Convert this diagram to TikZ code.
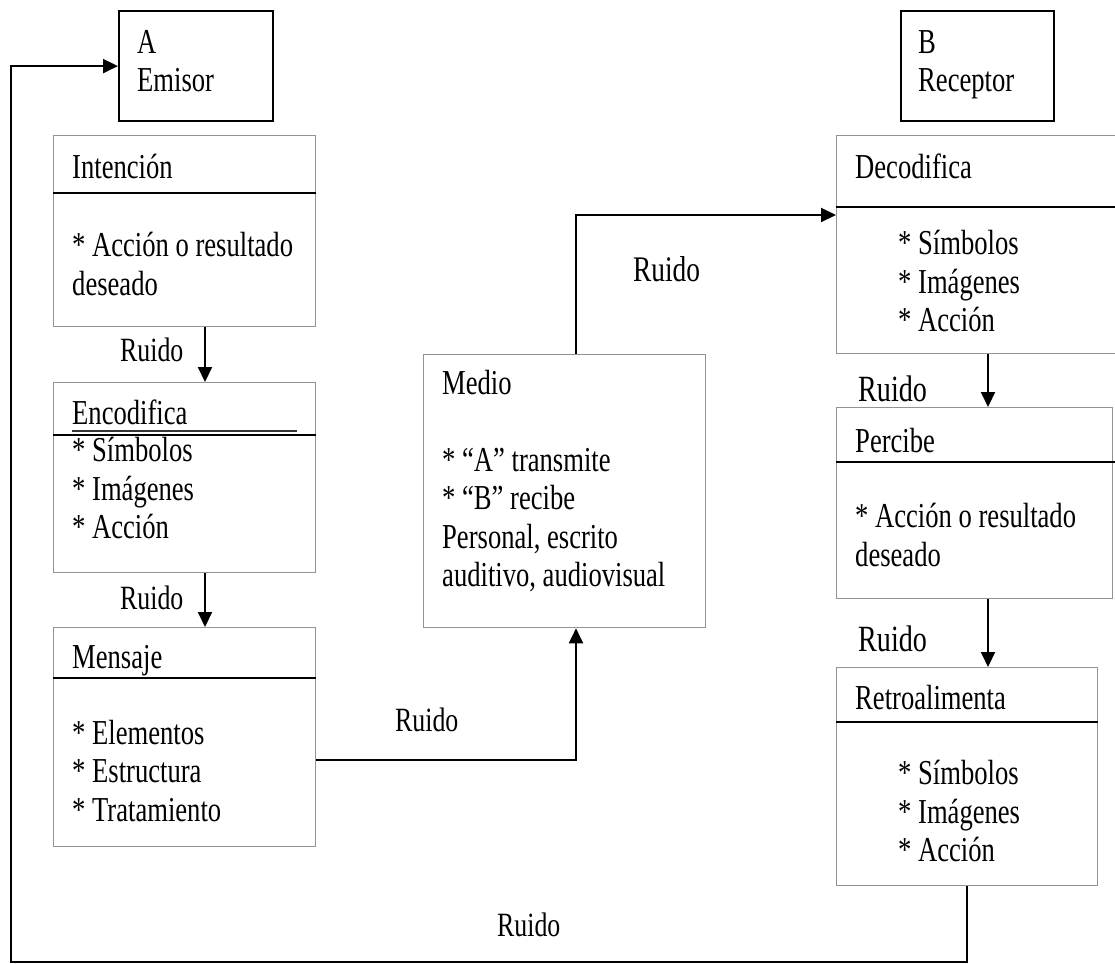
\documentclass[tikz,border=0pt]{standalone}
\usepackage{fontspec}
\setmainfont{Liberation Serif}[FakeStretch=0.76]
\usetikzlibrary{arrows.meta}

\begin{document}
\begin{tikzpicture}[x=1pt, y=-1pt,
    font=\fontsize{35}{38.5}\selectfont]
    \tikzset{caja/.style={draw=gray!85, line width=1.3pt, anchor=north west, inner sep=0pt}}
    \tikzset{marco/.style={draw=black, line width=2.2pt, anchor=north west, inner sep=0pt}}
    \tikzset{texto/.style={anchor=north west, inner sep=0pt, align=left, execute at begin node=\strut}}
    \tikzset{ruido/.style={anchor=base west, inner sep=0pt, font=\fontsize{34}{38}\selectfont}}
    \tikzset{divisor/.style={line width=2.2pt}}
    \tikzset{flecha/.style={line width=2pt, -{Triangle[length=15pt, width=14pt]}}}

    \clip (0,0) rectangle (1115,963);

    % emisor y receptor
    \node[marco, minimum width=154, minimum height=110] (emisor) at (118,10) {};
    \node[texto] (temisor) at (137,30) {A\\Emisor};
    \node[marco, minimum width=153, minimum height=110] (receptor) at (900,10) {};
    \node[texto] (treceptor) at (918,30) {B\\Receptor};

    % columna izquierda
    \node[caja, minimum width=262, minimum height=191] (intencion) at (53,135) {};
    \draw[divisor] (intencion.west |- 0,193) -- (intencion.east |- 0,193);
    \node[texto] (tintencion) at (72,151) {Intención};
    \node[texto] (bintencion) at (72,232) {{*} Acción o resultado\\deseado};

    \node[caja, minimum width=262, minimum height=190] (encodifica) at (53,382) {};
    \draw[divisor] (encodifica.west |- 0,435) -- (encodifica.east |- 0,435);
    \draw[line width=1.8pt, black!80] (72,431) -- (297,431);
    \node[texto] (tencodifica) at (72,397) {Encodifica};
    \node[texto] (bencodifica) at (72,437) {{*} Símbolos\\{*} Imágenes\\{*} Acción};

    \node[caja, minimum width=262, minimum height=219] (mensaje) at (53,627) {};
    \draw[divisor] (mensaje.west |- 0,678) -- (mensaje.east |- 0,678);
    \node[texto] (tmensaje) at (72,641) {Mensaje};
    \node[texto] (bmensaje) at (72,720) {{*} Elementos\\{*} Estructura\\{*} Tratamiento};

    % medio
    \node[caja, minimum width=282, minimum height=273] (medio) at (423,354) {};
    \node[texto] (tmedio) at (442,370) {Medio\\\mbox{}\\{*} “A” transmite\\{*} “B” recibe\\Personal, escrito\\auditivo, audiovisual};

    % columna derecha
    \node[caja, minimum width=300, minimum height=218] (decodifica) at (836,135) {};
    \draw[divisor] (decodifica.west |- 0,207) -- (decodifica.east |- 0,207);
    \node[texto] (tdecodifica) at (855,151) {Decodifica};
    \node[texto] (bdecodifica) at (898,230) {{*} Símbolos\\{*} Imágenes\\{*} Acción};

    \node[caja, minimum width=276, minimum height=191] (percibe) at (836,407) {};
    \draw[divisor] (percibe.west |- 0,462) -- (1120,462);
    \node[texto] (tpercibe) at (855,425) {Percibe};
    \node[texto] (bpercibe) at (855,503) {{*} Acción o resultado\\deseado};

    \node[caja, minimum width=261, minimum height=218] (retro) at (836,667) {};
    \draw[divisor] (retro.west |- 0,722) -- (retro.east |- 0,722);
    \node[texto] (tretro) at (855,682) {Retroalimenta};
    \node[texto] (bretro) at (898,760) {{*} Símbolos\\{*} Imágenes\\{*} Acción};

    % conectores
    \coordinate (izq) at (205,0);
    \coordinate (med) at (576,760);
    \coordinate (arriba) at (576,215);
    \coordinate (der) at (988,0);
    \coordinate (abajo) at (11,962);
    \draw[flecha] (intencion.south -| izq) -- (encodifica.north -| izq);
    \draw[flecha] (encodifica.south -| izq) -- (mensaje.north -| izq);
    \draw[flecha] (mensaje.east |- med) -| (medio.south -| med);
    \draw[flecha] (medio.north -| arriba) |- (decodifica.west |- arriba);
    \draw[flecha] (decodifica.south -| der) -- (percibe.north -| der);
    \draw[flecha] (percibe.south -| der) -- (retro.north -| der);
    \draw[flecha] (retro.south) |- (abajo) |- (emisor.west);

    \node[ruido] (r1) at (120,361) {Ruido};
    \node[ruido] (r2) at (120,609) {Ruido};
    \node[ruido] (r3) at (395,731) {Ruido};
    \node[ruido, font=\fontsize{36}{40}\selectfont] (r4) at (633,281) {Ruido};
    \node[ruido, font=\fontsize{37}{40}\selectfont] (r5) at (858,401) {Ruido};
    \node[ruido, font=\fontsize{37}{40}\selectfont] (r6) at (858,651) {Ruido};
    \node[ruido] (r7) at (497,936) {Ruido};
\end{tikzpicture}
\end{document}
